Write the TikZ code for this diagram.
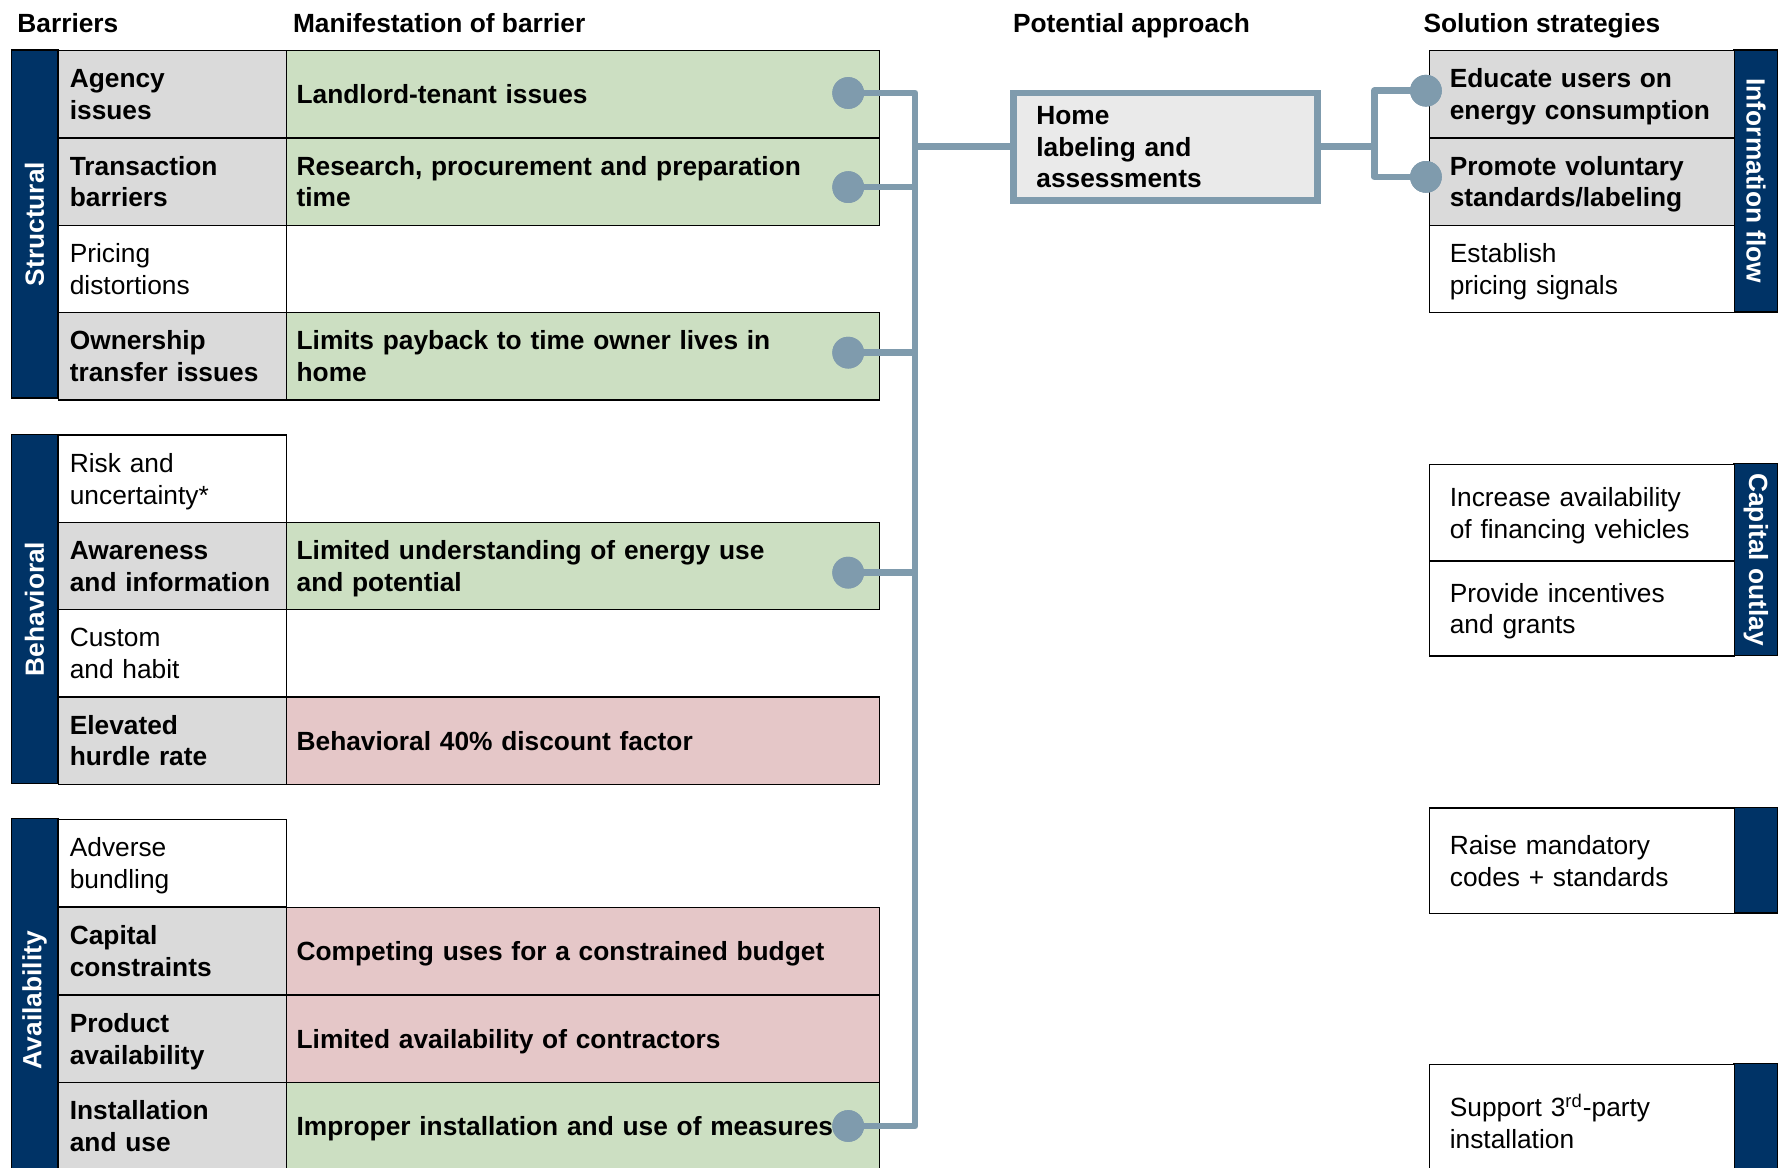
\documentclass[tikz,border=0pt]{standalone}
\usepackage{fontspec}
\setmainfont{Liberation Sans}
\definecolor{navy}{RGB}{0,51,102}
\definecolor{cgreen}{RGB}{204,223,194}
\definecolor{cpink}{RGB}{229,199,200}
\definecolor{cgray}{RGB}{218,218,218}
\definecolor{conn}{RGB}{127,155,173}
\definecolor{homefill}{RGB}{234,234,234}
\newcommand\cellstrut{\rule[-2.8pt]{0pt}{14pt}}
\begin{document}
\begin{tikzpicture}[x=0.5pt,y=-0.5pt,
  every node/.style={font=\fontsize{11.6}{14}\selectfont},
  cell/.style={draw=black, line width=0.6pt, anchor=north west, inner ysep=0pt, align=left,
    execute at begin node=\cellstrut, execute at end node=\cellstrut},
  boldtxt/.style={font=\fontsize{11.6}{14}\selectfont\bfseries},
  lcol/.style={cell, inner xsep=5pt, text width=90.5pt, minimum height=38.5pt},
  mcol/.style={cell, boldtxt, inner xsep=4.5pt, text width=252.5pt, minimum height=38.5pt},
  scol/.style={cell, inner xsep=9pt, text width=116.5pt},
  bandL/.style={fill=navy, draw=black, line width=0.6pt, text=white, inner sep=0pt, minimum height=20.5pt, boldtxt, rotate=90},
  bandR/.style={fill=navy, draw=black, line width=0.6pt, text=white, inner sep=0pt, minimum height=19.5pt, boldtxt, rotate=-90},
  hdr/.style={boldtxt, anchor=base west, inner sep=0pt},
  conline/.style={draw=conn, line width=2.9pt, line join=round},
  dot/.style={circle, fill=conn, inner sep=0pt, minimum size=14pt},
]
\clip (0,0) rectangle (1568,1030);
\fill[white] (0,0) rectangle (1568,1030);

% headers
\node[hdr] (h1) at (15,28.5) {Barriers};
\node[hdr] (h2) at (258,28.5) {Manifestation of barrier};
\node[hdr] (h3) at (893,28.5) {Potential approach};
\node[hdr] (h4) at (1255,28.5) {Solution strategies};

% ---------- Structural ----------
\node[bandL, minimum width=153.5pt] (bS) at (30.5,197.5) {Structural};
\node[lcol, fill=cgray, boldtxt] (s1) at (51,44) {Agency\\issues};
\node[mcol, fill=cgreen] (m1) at (252,44) {Landlord-tenant issues};
\node[lcol, fill=cgray, boldtxt] (s2) at (51,121) {Transaction\\barriers};
\node[mcol, fill=cgreen] (m2) at (252,121) {Research, procurement and preparation\\time};
\node[lcol, fill=white] (s3) at (51,198) {Pricing\\distortions};
\node[lcol, fill=cgray, boldtxt] (s4) at (51,275) {Ownership\\transfer issues};
\node[mcol, fill=cgreen] (m4) at (252,275) {Limits payback to time owner lives in\\home};

% ---------- Behavioral ----------
\node[bandL, minimum width=154pt] (bB) at (30.5,537) {Behavioral};
\node[lcol, fill=white] (b1) at (51,383) {Risk and\\uncertainty*};
\node[lcol, fill=cgray, boldtxt] (b2) at (51,460) {Awareness\\and information};
\node[mcol, fill=cgreen] (n2) at (252,460) {Limited understanding of energy use\\and potential};
\node[lcol, fill=white] (b3) at (51,537) {Custom\\and habit};
\node[lcol, fill=cgray, boldtxt] (b4) at (51,614) {Elevated\\hurdle rate};
\node[mcol, fill=cpink] (n4) at (252,614) {Behavioral 40\% discount factor};

% ---------- Availability ----------
\node[bandL, minimum width=160pt] (bA) at (30.5,882) {Availability};
\node[lcol, fill=white] (a1) at (51,722) {Adverse\\bundling};
\node[lcol, fill=cgray, boldtxt] (a2) at (51,799.5) {Capital\\constraints};
\node[mcol, fill=cpink] (p2) at (252,799.5) {Competing uses for a constrained budget};
\node[lcol, fill=cgray, boldtxt] (a3) at (51,877) {Product\\availability};
\node[mcol, fill=cpink] (p3) at (252,877) {Limited availability of contractors};
\node[lcol, fill=cgray, boldtxt] (a4) at (51,954) {Installation\\and use};
\node[mcol, fill=cgreen] (p4) at (252,954) {Improper installation and use of measures};

% ---------- Potential approach ----------
\node[draw=conn, line width=3pt, fill=homefill, anchor=north west, inner ysep=0pt, inner xsep=10pt,
      text width=114pt, minimum height=47.25pt, align=left, boldtxt,
      execute at begin node=\cellstrut, execute at end node=\cellstrut]
      (home) at (891,79) {Home\\labeling and\\assessments};

% ---------- Solution strategies ----------
\node[bandR, minimum width=115.5pt] (rI) at (1548.5,159.5) {Information flow};
\node[scol, fill=cgray, boldtxt, minimum height=38.5pt] (e1) at (1260,44) {Educate users on\\energy consumption};
\node[scol, fill=cgray, boldtxt, minimum height=38.5pt] (e2) at (1260,121) {Promote voluntary\\standards/labeling};
\node[scol, fill=white, minimum height=38.5pt] (e3) at (1260,198) {Establish\\pricing signals};

\node[bandR, minimum width=84.5pt] (rC) at (1548.5,493.5) {Capital outlay};
\node[scol, fill=white, minimum height=42.5pt] (c1) at (1260,409) {Increase availability\\of financing vehicles};
\node[scol, fill=white, minimum height=42pt] (c2) at (1260,494) {Provide incentives\\and grants};

\node[bandR, minimum width=46.5pt] (rM) at (1548.5,758.5) {};
\node[scol, fill=white, minimum height=46.5pt] (k1) at (1260,712) {Raise mandatory\\codes + standards};

\node[bandR, minimum width=52pt] (rP) at (1548.5,990) {};
\node[scol, fill=white, minimum height=52pt] (k2) at (1260,938) {Support 3\textsuperscript{rd}-party\\installation};

% ---------- connectors ----------
\node[dot] (d1) at (748,82) {};
\node[dot] (d2) at (748,165) {};
\node[dot] (d3) at (748,311) {};
\node[dot] (d4) at (748,505) {};
\node[dot] (d5) at (748,993) {};
\node[dot] (g1) at (1257.5,80) {};
\node[dot] (g2) at (1257.5,156) {};
\coordinate (spx) at (807,0);
\coordinate (rx) at (1212,0);

\draw[conline] (d1.center) -- (d1.center -| spx) -- (d5.center -| spx) -- (d5.center);
\draw[conline] (d2.center) -- (d2.center -| spx);
\draw[conline] (d3.center) -- (d3.center -| spx);
\draw[conline] (d4.center) -- (d4.center -| spx);
\draw[conline] (home.west) -- (home.west -| spx);
\draw[conline] (home.east) -- (home.east -| rx);
\draw[conline] (g1.center) -- (g1.center -| rx) -- (g2.center -| rx) -- (g2.center);

\foreach \d in {d1,d2,d3,d4,d5,g1,g2} {\fill[conn] (\d) circle (7pt);}
\end{tikzpicture}
\end{document}
